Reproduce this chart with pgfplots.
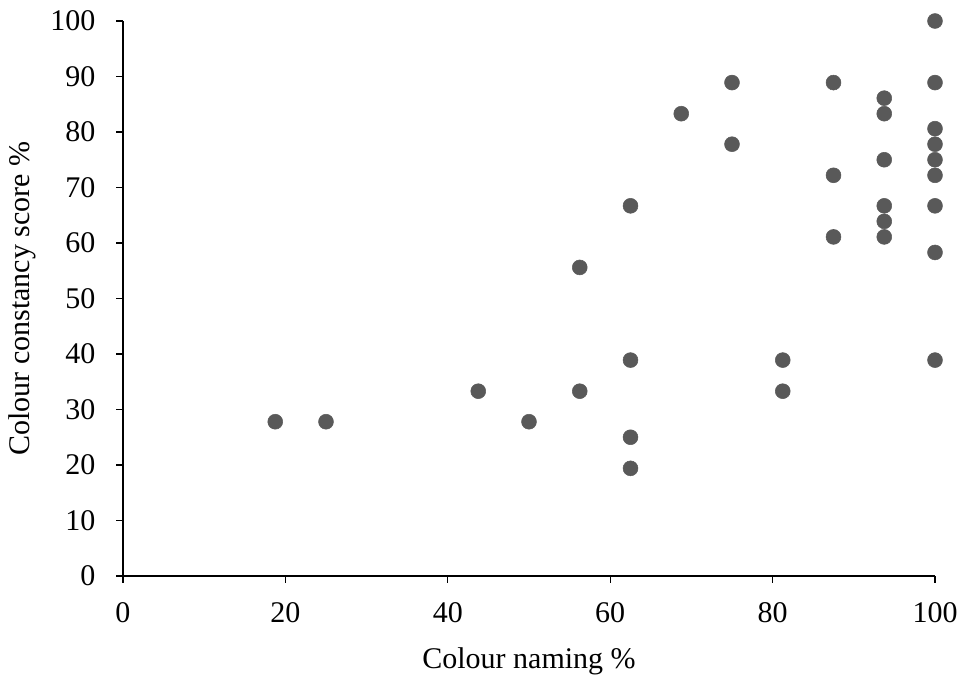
\documentclass[border=0pt]{standalone}
\usepackage{pgfplots}
\pgfplotsset{compat=1.18}
\usepackage{fontspec}
\setmainfont{Liberation Serif}
\definecolor{dotgray}{HTML}{595959}
\begin{document}
\fontsize{22.5pt}{27pt}\selectfont
\begin{tikzpicture}
\begin{axis}[
  scale only axis,
  width=609pt, height=416.25pt,
  xmin=0, xmax=100, ymin=0, ymax=100,
  axis lines*=left,
  axis line style={black, line width=1pt},
  tick align=outside,
  major tick length=5pt,
  tick style={black, line width=1pt},
  xtick={0,20,40,60,80,100},
  ytick={0,10,20,30,40,50,60,70,80,90,100},
  /pgf/number format/assume math mode=true,
  ticklabel style={font=\fontsize{22.5pt}{27pt}\selectfont},
  yticklabel style={xshift=-8pt},
  xticklabel style={yshift=-7pt},
  label style={font=\fontsize{23.5pt}{28pt}\selectfont},
  xlabel={Colour naming \%},
  ylabel={Colour constancy score \%},
  every axis y label/.style={at={(axis description cs:0,0.5)}, rotate=90, anchor=center, yshift=75.75pt},
  every axis x label/.style={at={(axis description cs:0.5,0)}, anchor=center, yshift=-64pt},
  clip=false,
]
\addplot[only marks, mark=*, mark size=5.6pt, mark options={draw=dotgray, fill=dotgray}, color=dotgray] coordinates {
(100,100) (100,88.9) (100,80.6) (100,77.8) (100,75) (100,72.2) (100,66.7) (100,58.3) (100,38.9)
(93.75,86.1) (93.75,83.3) (93.75,75) (93.75,66.7) (93.75,63.9) (93.75,61.1)
(87.5,88.9) (87.5,72.2) (87.5,61.1)
(81.25,38.9) (81.25,33.3)
(75,88.9) (75,77.8)
(68.75,83.3)
(62.5,66.7) (62.5,38.9) (62.5,25) (62.5,19.4)
(56.25,55.6) (56.25,33.3)
(50,27.8)
(43.75,33.3)
(25,27.8)
(18.75,27.8)
};
\end{axis}
\pgfresetboundingbox
\path[use as bounding box] (-92.25pt,-75pt) rectangle (630pt,432pt);
\end{tikzpicture}
\end{document}
